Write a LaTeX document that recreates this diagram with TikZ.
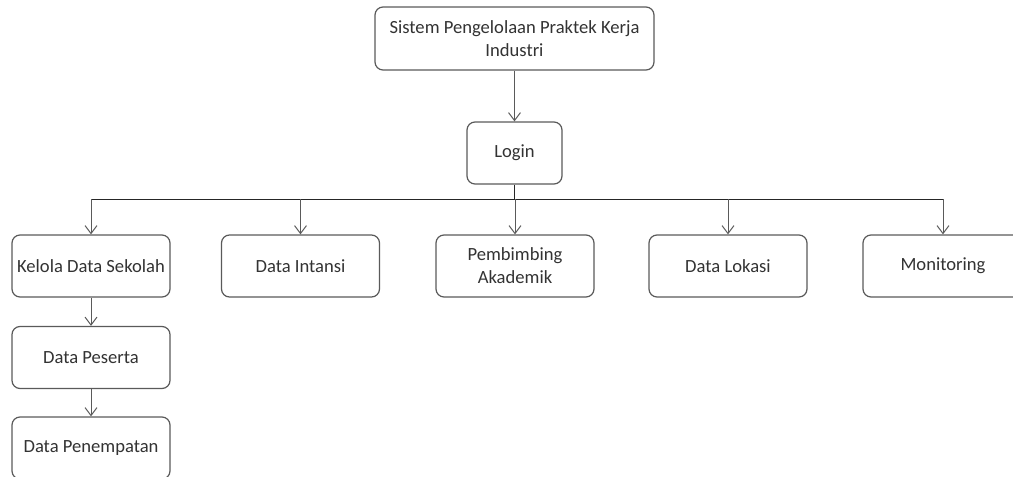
\documentclass[tikz,border=0pt]{standalone}
\usepackage{fontspec}
\setmainfont{Carlito}
\usetikzlibrary{arrows.meta}
\definecolor{linegray}{HTML}{5A5A5A}
\definecolor{textgray}{HTML}{333333}
\tikzset{
  box/.style={draw=linegray, line width=1.2pt, rounded corners=8pt, fill=white,
    minimum width=158pt, minimum height=62pt, align=center, inner sep=2pt,
    text=textgray, font=\fontsize{18.6}{23}\selectfont},
  conn/.style={draw=linegray, line width=1pt},
  arr/.style={conn, -{Straight Barb[length=8pt,width=12pt,line width=1pt]}},
}
\begin{document}
\begin{tikzpicture}[x=1pt,y=-1pt]
\useasboundingbox (0,0) rectangle (1013,477);
\clip (0,0) rectangle (1013,477);
\node[box, minimum width=279pt, minimum height=63pt] (top) at (514.5,38.5) {Sistem Pengelolaan Praktek Kerja\\Industri};
\node[box, minimum width=95pt] (login) at (514.5,153) {Login};
\node[box] (kelola) at (91,266) {Kelola Data Sekolah};
\node[box] (intansi) at (300.5,266) {Data Intansi};
\node[box] (pemb) at (515,266) {Pembimbing\\Akademik};
\node[box] (lokasi) at (728,266) {Data Lokasi};
\node[box, minimum width=160pt] (monit) at (943,266) {Monitoring};
\node[box] (peserta) at (91,357.5) {Data Peserta};
\node[box] (penemp) at (91,448) {Data Penempatan};
\coordinate (bar) at (514.5,199);
\draw[arr] (top) -- (login);
\draw[conn, draw=black!85] (login.south) -- (login.south |- bar);
\draw[conn, draw=black!85] (kelola.north |- bar) -- (monit.north |- bar);
\foreach \n in {kelola,intansi,pemb,lokasi,monit}
  \draw[arr] (\n.north |- bar) -- (\n.north);
\draw[arr] (kelola) -- (peserta);
\draw[arr] (peserta) -- (penemp);
\end{tikzpicture}
\end{document}
